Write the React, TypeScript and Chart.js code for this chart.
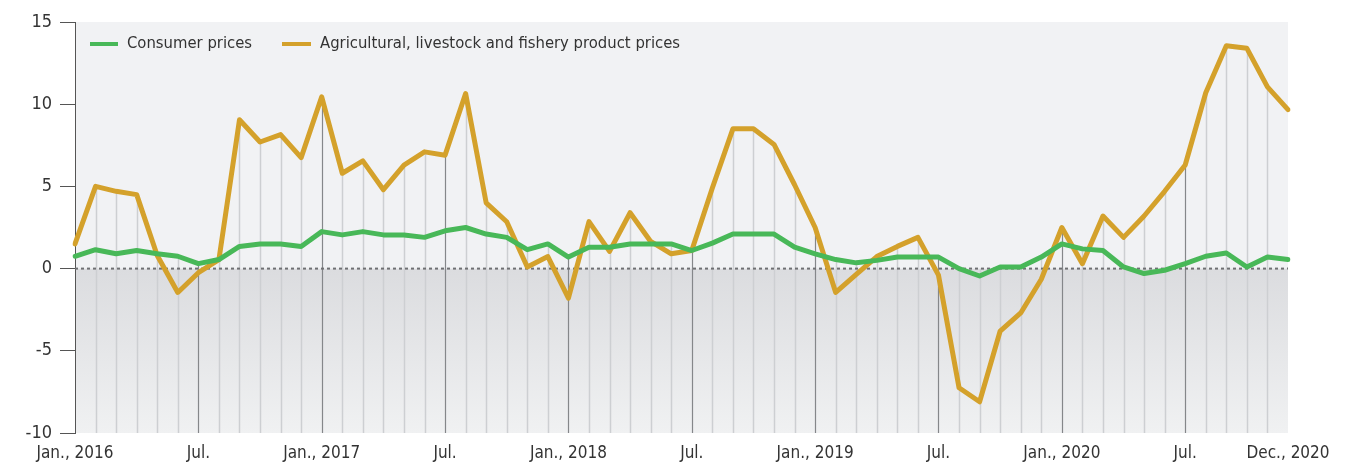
import React, { useEffect, useRef } from "react";
import { Chart, registerables } from "chart.js";

Chart.register(...registerables);

const months: string[] = [];
const monthNames = ["Jan", "Feb", "Mar", "Apr", "May", "Jun", "Jul", "Aug", "Sep", "Oct", "Nov", "Dec"];
for (let y = 2016; y <= 2020; y++) for (const m of monthNames) months.push(`${m} ${y}`);

const tickLabels: Record<number, string> = {
  0: "Jan., 2016",
  6: "Jul.",
  12: "Jan., 2017",
  18: "Jul.",
  24: "Jan., 2018",
  30: "Jul.",
  36: "Jan., 2019",
  42: "Jul.",
  48: "Jan., 2020",
  54: "Jul.",
  59: "Dec., 2020",
};

const consumerPrices = [
  0.75, 1.15, 0.9, 1.1, 0.9, 0.75, 0.3, 0.55, 1.35, 1.5, 1.5, 1.35,
  2.25, 2.05, 2.25, 2.05, 2.05, 1.9, 2.3, 2.5, 2.1, 1.9, 1.15, 1.5,
  0.7, 1.3, 1.3, 1.5, 1.5, 1.5, 1.1, 1.55, 2.1, 2.1, 2.1, 1.3,
  0.9, 0.55, 0.35, 0.5, 0.7, 0.7, 0.7, 0.0, -0.45, 0.1, 0.1, 0.7,
  1.5, 1.2, 1.1, 0.1, -0.3, -0.1, 0.3, 0.75, 0.95, 0.1, 0.7, 0.55,
];

const agriPrices = [
  1.5, 5.0, 4.7, 4.5, 0.8, -1.45, -0.25, 0.55, 9.05, 7.7, 8.15, 6.75,
  10.45, 5.8, 6.55, 4.8, 6.3, 7.1, 6.9, 10.65, 4.0, 2.85, 0.1, 0.73,
  -1.8, 2.86, 1.05, 3.4, 1.65, 0.9, 1.1, 4.9, 8.5, 8.5, 7.55, 5.1,
  2.5, -1.45, -0.35, 0.73, 1.35, 1.9, -0.4, -7.25, -8.1, -3.8, -2.7, -0.65,
  2.5, 0.3, 3.2, 1.9, 3.2, 4.7, 6.3, 10.7, 13.55, 13.4, 11.05, 9.67,
];

const FONT = '"Liberation Sans Narrow", "DejaVu Sans Condensed", "Arial Narrow", sans-serif';
const GREEN = "#48b858";
const ORANGE = "#d4a12b";

const backgroundPlugin = {
  id: "bgPlugin",
  beforeDraw(chart: any) {
    const { ctx, chartArea } = chart;
    const ys = chart.scales.y;
    const zeroY = ys.getPixelForValue(0);
    ctx.save();
    ctx.fillStyle = "#f1f2f4";
    ctx.fillRect(chartArea.left, chartArea.top, chartArea.right - chartArea.left, zeroY - chartArea.top);
    const g = ctx.createLinearGradient(0, zeroY, 0, chartArea.bottom);
    g.addColorStop(0, "#dbdcdf");
    g.addColorStop(1, "#f0f1f2");
    ctx.fillStyle = g;
    ctx.fillRect(chartArea.left, zeroY, chartArea.right - chartArea.left, chartArea.bottom - zeroY);
    ctx.restore();
  },
  beforeDatasetsDraw(chart: any) {
    const { ctx, chartArea } = chart;
    const xs = chart.scales.x;
    const ys = chart.scales.y;
    const zeroY = ys.getPixelForValue(0);
    ctx.save();
    for (let i = 1; i < months.length - 1; i++) {
      const x = Math.round(xs.getPixelForValue(i)) + 0.5;
      const major = i % 6 === 0;
      const top = Math.max(0, consumerPrices[i], agriPrices[i]);
      const topY = ys.getPixelForValue(top);
      ctx.strokeStyle = major ? "#85878a" : "#cdcfd2";
      ctx.lineWidth = major ? 1.2 : 1.5;
      ctx.beginPath();
      ctx.moveTo(x, chartArea.bottom);
      ctx.lineTo(x, topY);
      ctx.stroke();
    }
    ctx.strokeStyle = "#6f7073";
    ctx.lineWidth = 2;
    ctx.setLineDash([3, 3]);
    ctx.beginPath();
    ctx.moveTo(chartArea.left, zeroY);
    ctx.lineTo(chartArea.right, zeroY);
    ctx.stroke();
    ctx.restore();
  },
  afterDatasetsDraw(chart: any) {
    const { ctx } = chart;
    ctx.save();
    ctx.font = `16.5px ${FONT}`;
    ctx.textBaseline = "middle";
    ctx.lineWidth = 4;
    ctx.lineCap = "butt";
    const y = 44;
    ctx.strokeStyle = GREEN;
    ctx.beginPath();
    ctx.moveTo(90, y);
    ctx.lineTo(118, y);
    ctx.stroke();
    ctx.fillStyle = "#333333";
    ctx.fillText("Consumer prices", 127, y);
    ctx.strokeStyle = ORANGE;
    ctx.beginPath();
    ctx.moveTo(282, y);
    ctx.lineTo(311, y);
    ctx.stroke();
    ctx.fillText("Agricultural, livestock and fishery product prices", 320, y);
    ctx.restore();
  },
};

export default function App() {
  const canvasRef = useRef<HTMLCanvasElement | null>(null);

  useEffect(() => {
    document.body.style.margin = "0";
    const canvas = canvasRef.current;
    if (!canvas) return;
    Chart.defaults.font.family = FONT;
    const chart = new Chart(canvas, {
      type: "line",
      data: {
        labels: months,
        datasets: [
          {
            label: "Consumer prices",
            data: consumerPrices,
            borderColor: GREEN,
            borderWidth: 5,
            pointRadius: 0,
            tension: 0,
            borderJoinStyle: "round",
            borderCapStyle: "round",
          },
          {
            label: "Agricultural, livestock and fishery product prices",
            data: agriPrices,
            borderColor: ORANGE,
            borderWidth: 5,
            pointRadius: 0,
            tension: 0,
            borderJoinStyle: "round",
            borderCapStyle: "round",
          },
        ],
      },
      options: {
        animation: false,
        responsive: false,
        maintainAspectRatio: false,
        layout: { padding: { left: 0, right: 71, top: 22, bottom: 0 } },
        plugins: {
          legend: { display: false },
          tooltip: { enabled: false },
        },
        scales: {
          x: {
            type: "category",
            offset: false,
            grid: { display: false, drawTicks: false },
            border: { display: false },
            ticks: {
              autoSkip: false,
              maxRotation: 0,
              minRotation: 0,
              padding: 10,
              color: "#333333",
              font: { size: 17 },
              callback: (_v: any, i: number) => tickLabels[i] ?? "",
            },
            afterFit: (s: any) => {
              s.height = 30;
            },
          },
          y: {
            min: -10,
            max: 15,
            ticks: {
              stepSize: 5,
              padding: 8,
              color: "#333333",
              font: { size: 18 },
            },
            grid: {
              drawOnChartArea: false,
              drawTicks: true,
              tickLength: 15,
              color: "#555555",
              lineWidth: 1,
            },
            border: { display: true, color: "#555555", width: 1 },
            afterFit: (s: any) => {
              s.width = 75;
            },
          },
        },
      },
      plugins: [backgroundPlugin],
    });
    return () => chart.destroy();
  }, []);

  return (
    <div style={{ width: 1359, height: 463 }}>
      <canvas ref={canvasRef} width={1359} height={463} style={{ display: "block" }} />
    </div>
  );
}
